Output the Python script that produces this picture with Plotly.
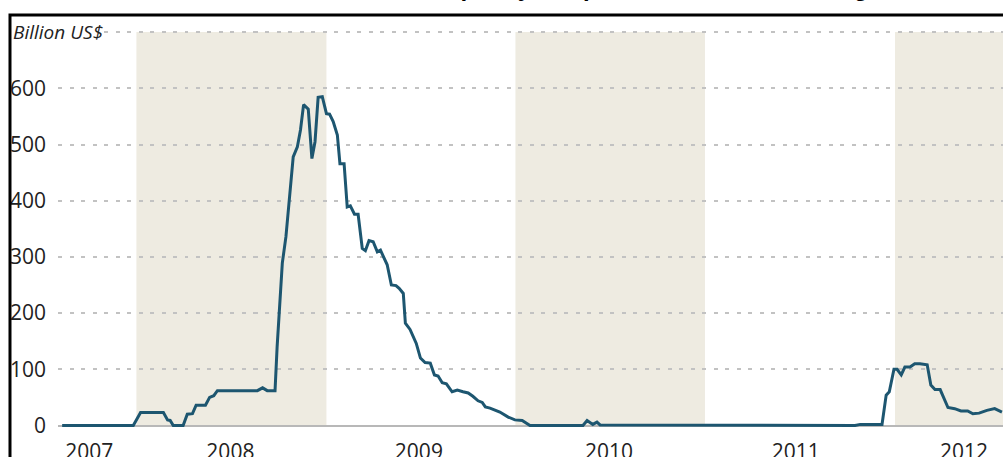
import plotly.graph_objects as go

# ---- data ----
dates = [
    "2007-07-21", "2007-12-05", "2007-12-19", "2008-02-01", "2008-02-09", "2008-02-14",
    "2008-02-20", "2008-03-10", "2008-03-18", "2008-03-28", "2008-04-04", "2008-04-22",
    "2008-04-30", "2008-05-08", "2008-05-15", "2008-07-31", "2008-08-10", "2008-08-19",
    "2008-09-03", "2008-09-07", "2008-09-17", "2008-09-24", "2008-10-08", "2008-10-16",
    "2008-10-22", "2008-10-28", "2008-11-06", "2008-11-13", "2008-11-19", "2008-11-25",
    "2008-12-03", "2008-12-11", "2008-12-17", "2008-12-24", "2009-01-01", "2009-01-06",
    "2009-01-14", "2009-01-20", "2009-01-26", "2009-02-03", "2009-02-10", "2009-02-18",
    "2009-02-24", "2009-03-03", "2009-03-11", "2009-03-19", "2009-03-25", "2009-04-07",
    "2009-04-15", "2009-04-24", "2009-04-30", "2009-05-08", "2009-05-12", "2009-05-21",
    "2009-06-02", "2009-06-10", "2009-06-19", "2009-06-29", "2009-07-07", "2009-07-14",
    "2009-07-22", "2009-07-30", "2009-08-10", "2009-08-20", "2009-08-31", "2009-09-10",
    "2009-09-19", "2009-09-29", "2009-10-07", "2009-10-13", "2009-10-22", "2009-11-10",
    "2009-11-26", "2009-12-09", "2009-12-23", "2010-01-07", "2010-04-19", "2010-04-27",
    "2010-05-08", "2010-05-16", "2010-05-22", "2010-07-25", "2010-08-07", "2011-09-25",
    "2011-10-05", "2011-11-16", "2011-11-24", "2011-11-30", "2011-12-09", "2011-12-15",
    "2011-12-23", "2011-12-30", "2012-01-09", "2012-01-18", "2012-01-28", "2012-02-11",
    "2012-02-18", "2012-02-26", "2012-03-07", "2012-03-22", "2012-04-04", "2012-04-16",
    "2012-04-29", "2012-05-09", "2012-05-21", "2012-06-05", "2012-06-20", "2012-07-04",
]
swaps_bn = [
    0, 0, 23, 23, 10, 9,
    0, 0, 20, 21, 36, 36,
    50, 53, 62, 62, 67, 62,
    62, 140, 289, 336, 478, 496,
    526, 571, 563, 475, 505, 584,
    585, 555, 554, 541, 517, 466,
    466, 389, 391, 376, 376, 315,
    311, 329, 327, 309, 312, 286,
    250, 249, 244, 235, 182, 171,
    146, 120, 112, 111, 90, 88,
    76, 74, 60, 63, 60, 58,
    52, 44, 41, 33, 31, 24,
    15, 10, 9, 0, 0, 9,
    2, 6, 1, 1, 0, 0,
    2, 2, 54, 60, 100, 100,
    90, 104, 104, 110, 110, 108,
    72, 64, 64, 32, 30, 26,
    26, 21, 22, 27, 30, 24,
]

band_starts = ["2007-12-11", "2009-12-10", "2011-12-11"]
band_ends = ["2008-12-11", "2010-12-10", "2012-12-31"]

year_tick_dates = ["2007-09-11", "2008-06-09", "2009-06-07", "2010-06-08", "2011-06-03", "2012-04-22"]
year_tick_labels = ["2007", "2008", "2009", "2010", "2011", "2012"]

y_tick_vals = [0, 100, 200, 300, 400, 500, 600, 700]
y_tick_text = ["0", "100", "200", "300", "400", "500", "600", ""]

title_text = "Central bank liquidity swaps, amounts outstanding"

FONT = "Open Sans, DejaVu Sans, sans-serif"

fig = go.Figure()
fig.add_trace(go.Scatter(
    x=dates, y=swaps_bn, mode="lines",
    line=dict(color="#1d5670", width=3),
    hoverinfo="x+y", showlegend=False,
))

for s, e in zip(band_starts, band_ends):
    fig.add_shape(type="rect", xref="x", yref="y", x0=s, x1=e, y0=0, y1=700,
                  fillcolor="#eeebe1", line=dict(width=0), layer="below")

# outer frame (extends beyond the visible page on the right and bottom)
fig.add_shape(type="rect", xref="paper", yref="paper",
              x0=-0.0508, x1=1.2, y0=-0.3, y1=1.0401,
              line=dict(color="black", width=3), fillcolor="rgba(0,0,0,0)", layer="above")

fig.add_annotation(xref="paper", yref="y", x=-0.0487, y=700, xanchor="left", yanchor="middle",
                   text="<i>Billion US$</i>", showarrow=False, bgcolor="white",
                   font=dict(family=FONT, size=19, color="#222222"), borderpad=0)

fig.add_annotation(xref="paper", yref="paper", x=0.55, y=1.069, xanchor="center", yanchor="bottom",
                   text="<b>" + title_text + "</b>", showarrow=False,
                   font=dict(family="Liberation Sans, Arial, sans-serif", size=24, color="black"))

fig.update_layout(
    width=1003, height=457, autosize=False,
    margin=dict(l=58, r=0, t=31, b=27, autoexpand=False),
    paper_bgcolor="white", plot_bgcolor="white",
    font=dict(family=FONT, size=21, color="#222222"),
    xaxis=dict(
        type="date", range=["2007-07-13", "2012-07-06"],
        tickmode="array", tickvals=year_tick_dates, ticktext=year_tick_labels,
        showgrid=False, zeroline=False, showline=False, ticks="",
        tickfont=dict(family=FONT, size=21, color="#222222"),
        ticklabelstandoff=7, automargin=False,
    ),
    yaxis=dict(
        range=[-8, 702], tickmode="array", tickvals=y_tick_vals, ticktext=y_tick_text,
        showgrid=True, gridcolor="#c2c2c2", gridwidth=1.5, griddash="4px,7.5px",
        zeroline=True, zerolinecolor="#b8b8b8", zerolinewidth=1.5,
        showline=False, ticks="",
        tickfont=dict(family=FONT, size=21, color="#222222"),
        ticklabelstandoff=11, automargin=False,
    ),
)

fig.write_html("out.html", config={"displayModeBar": False},
               post_script="document.body.style.margin='0';document.body.style.padding='0';")
